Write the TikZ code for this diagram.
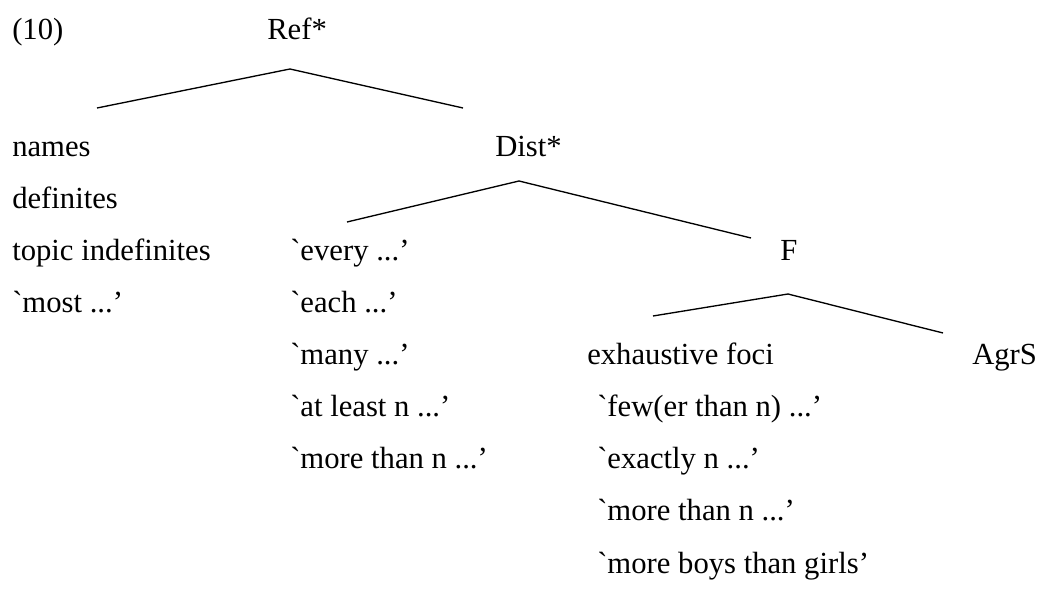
\documentclass[tikz,border=0pt]{standalone}
\usepackage{fontspec}
\setmainfont{Liberation Serif}[Ligatures=TeXOff]
\begin{document}
\begin{tikzpicture}[x=0.75pt,y=-0.75pt,
  lbl/.style={anchor=base west,inner sep=0pt,font=\fontsize{23}{27}\selectfont},
  branch/.style={line width=1pt,line cap=butt}]
\useasboundingbox (0,0) rectangle (1040,595);
% example number and root
\node[lbl] (num)   at (12,40)   {(10)};
\node[lbl] (ref)   at (267,40)  {Ref*};
% first column
\node[lbl] (names) at (12,157)  {names};
\node[lbl] (defs)  at (12,209)  {definites};
\node[lbl] (topic) at (12,261)  {topic indefinites};
\node[lbl] (most)  at (12,313)  {`most ...’};
% Dist* and its dependents
\node[lbl] (dist)  at (495,157) {Dist*};
\node[lbl] (every) at (290,261) {`every ...’};
\node[lbl] (each)  at (290,313) {`each ...’};
\node[lbl] (many)  at (290,365) {`many ...’};
\node[lbl] (least) at (290,417) {`at least n ...’};
\node[lbl] (morea) at (290,469) {`more than n ...’};
% F and its dependents
\node[lbl] (f)     at (780,261) {F};
\node[lbl] (exh)   at (587,365) {exhaustive foci};
\node[lbl] (few)   at (597,417) {`few(er than n) ...’};
\node[lbl] (exact) at (597,469) {`exactly n ...’};
\node[lbl] (moreb) at (597,521) {`more than n ...’};
\node[lbl] (boys)  at (597,573) {`more boys than girls’};
\node[lbl] (agrs)  at (972,365) {AgrS};
% branch points
\coordinate (refTop)   at (290,69);
\coordinate (refL)     at (97,108);
\coordinate (refR)     at (463,108);
\coordinate (distTop)  at (519,181);
\coordinate (distL)    at (347,222);
\coordinate (distR)    at (751,238);
\coordinate (fTop)     at (788,294);
\coordinate (fL)       at (653,316);
\coordinate (fR)       at (943,333);
\draw[branch] (refL) -- (refTop) -- (refR);
\draw[branch] (distL) -- (distTop) -- (distR);
\draw[branch] (fL) -- (fTop) -- (fR);
\end{tikzpicture}
\end{document}
